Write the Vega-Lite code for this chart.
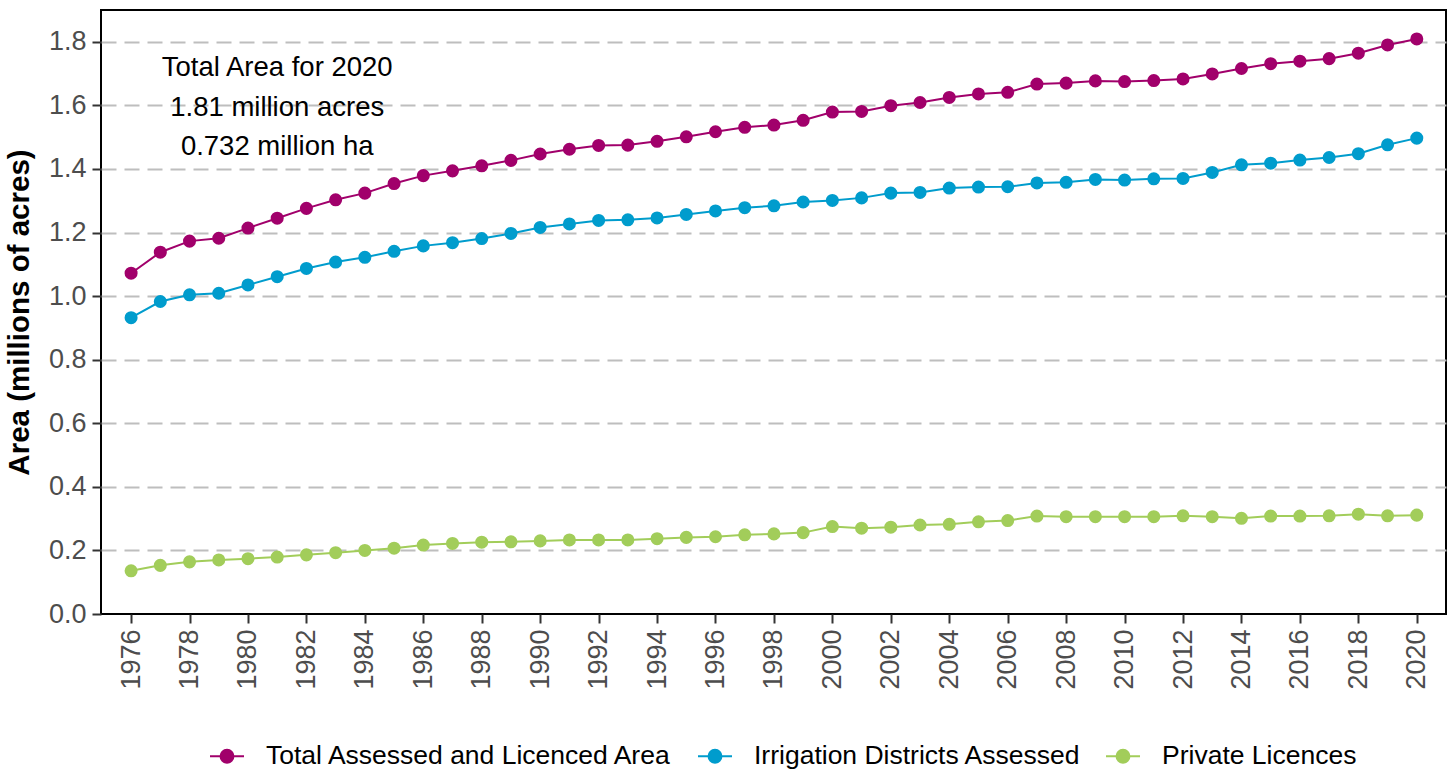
{
  "$schema": "https://vega.github.io/schema/vega-lite/v6.json",
  "width": 1345,
  "height": 604,
  "autosize": {"type": "none"},
  "padding": {"left": 101, "top": 10, "right": 4, "bottom": 155},
  "background": "white",
  "config": {
    "font": "Liberation Sans",
    "view": {"stroke": "#000000", "strokeWidth": 2},
    "axis": {"labelFont": "Liberation Sans", "titleFont": "Liberation Sans"}
  },
  "datasets": {
    "series": [
      {"year": 1976, "series": "Total Assessed and Licenced Area", "value": 1.072},
      {"year": 1977, "series": "Total Assessed and Licenced Area", "value": 1.138},
      {"year": 1978, "series": "Total Assessed and Licenced Area", "value": 1.173},
      {"year": 1979, "series": "Total Assessed and Licenced Area", "value": 1.182},
      {"year": 1980, "series": "Total Assessed and Licenced Area", "value": 1.214},
      {"year": 1981, "series": "Total Assessed and Licenced Area", "value": 1.245},
      {"year": 1982, "series": "Total Assessed and Licenced Area", "value": 1.276},
      {"year": 1983, "series": "Total Assessed and Licenced Area", "value": 1.303},
      {"year": 1984, "series": "Total Assessed and Licenced Area", "value": 1.324},
      {"year": 1985, "series": "Total Assessed and Licenced Area", "value": 1.354},
      {"year": 1986, "series": "Total Assessed and Licenced Area", "value": 1.379},
      {"year": 1987, "series": "Total Assessed and Licenced Area", "value": 1.394},
      {"year": 1988, "series": "Total Assessed and Licenced Area", "value": 1.410},
      {"year": 1989, "series": "Total Assessed and Licenced Area", "value": 1.427},
      {"year": 1990, "series": "Total Assessed and Licenced Area", "value": 1.447},
      {"year": 1991, "series": "Total Assessed and Licenced Area", "value": 1.462},
      {"year": 1992, "series": "Total Assessed and Licenced Area", "value": 1.474},
      {"year": 1993, "series": "Total Assessed and Licenced Area", "value": 1.475},
      {"year": 1994, "series": "Total Assessed and Licenced Area", "value": 1.487},
      {"year": 1995, "series": "Total Assessed and Licenced Area", "value": 1.501},
      {"year": 1996, "series": "Total Assessed and Licenced Area", "value": 1.517},
      {"year": 1997, "series": "Total Assessed and Licenced Area", "value": 1.531},
      {"year": 1998, "series": "Total Assessed and Licenced Area", "value": 1.538},
      {"year": 1999, "series": "Total Assessed and Licenced Area", "value": 1.553},
      {"year": 2000, "series": "Total Assessed and Licenced Area", "value": 1.579},
      {"year": 2001, "series": "Total Assessed and Licenced Area", "value": 1.581},
      {"year": 2002, "series": "Total Assessed and Licenced Area", "value": 1.599},
      {"year": 2003, "series": "Total Assessed and Licenced Area", "value": 1.609},
      {"year": 2004, "series": "Total Assessed and Licenced Area", "value": 1.625},
      {"year": 2005, "series": "Total Assessed and Licenced Area", "value": 1.636},
      {"year": 2006, "series": "Total Assessed and Licenced Area", "value": 1.641},
      {"year": 2007, "series": "Total Assessed and Licenced Area", "value": 1.667},
      {"year": 2008, "series": "Total Assessed and Licenced Area", "value": 1.670},
      {"year": 2009, "series": "Total Assessed and Licenced Area", "value": 1.677},
      {"year": 2010, "series": "Total Assessed and Licenced Area", "value": 1.675},
      {"year": 2011, "series": "Total Assessed and Licenced Area", "value": 1.678},
      {"year": 2012, "series": "Total Assessed and Licenced Area", "value": 1.683},
      {"year": 2013, "series": "Total Assessed and Licenced Area", "value": 1.699},
      {"year": 2014, "series": "Total Assessed and Licenced Area", "value": 1.716},
      {"year": 2015, "series": "Total Assessed and Licenced Area", "value": 1.731},
      {"year": 2016, "series": "Total Assessed and Licenced Area", "value": 1.739},
      {"year": 2017, "series": "Total Assessed and Licenced Area", "value": 1.747},
      {"year": 2018, "series": "Total Assessed and Licenced Area", "value": 1.764},
      {"year": 2019, "series": "Total Assessed and Licenced Area", "value": 1.790},
      {"year": 2020, "series": "Total Assessed and Licenced Area", "value": 1.809},
      {"year": 1976, "series": "Irrigation Districts Assessed", "value": 0.932},
      {"year": 1977, "series": "Irrigation Districts Assessed", "value": 0.983},
      {"year": 1978, "series": "Irrigation Districts Assessed", "value": 1.004},
      {"year": 1979, "series": "Irrigation Districts Assessed", "value": 1.009},
      {"year": 1980, "series": "Irrigation Districts Assessed", "value": 1.035},
      {"year": 1981, "series": "Irrigation Districts Assessed", "value": 1.061},
      {"year": 1982, "series": "Irrigation Districts Assessed", "value": 1.087},
      {"year": 1983, "series": "Irrigation Districts Assessed", "value": 1.107},
      {"year": 1984, "series": "Irrigation Districts Assessed", "value": 1.122},
      {"year": 1985, "series": "Irrigation Districts Assessed", "value": 1.141},
      {"year": 1986, "series": "Irrigation Districts Assessed", "value": 1.158},
      {"year": 1987, "series": "Irrigation Districts Assessed", "value": 1.168},
      {"year": 1988, "series": "Irrigation Districts Assessed", "value": 1.181},
      {"year": 1989, "series": "Irrigation Districts Assessed", "value": 1.197},
      {"year": 1990, "series": "Irrigation Districts Assessed", "value": 1.216},
      {"year": 1991, "series": "Irrigation Districts Assessed", "value": 1.227},
      {"year": 1992, "series": "Irrigation Districts Assessed", "value": 1.238},
      {"year": 1993, "series": "Irrigation Districts Assessed", "value": 1.240},
      {"year": 1994, "series": "Irrigation Districts Assessed", "value": 1.246},
      {"year": 1995, "series": "Irrigation Districts Assessed", "value": 1.257},
      {"year": 1996, "series": "Irrigation Districts Assessed", "value": 1.268},
      {"year": 1997, "series": "Irrigation Districts Assessed", "value": 1.278},
      {"year": 1998, "series": "Irrigation Districts Assessed", "value": 1.284},
      {"year": 1999, "series": "Irrigation Districts Assessed", "value": 1.296},
      {"year": 2000, "series": "Irrigation Districts Assessed", "value": 1.301},
      {"year": 2001, "series": "Irrigation Districts Assessed", "value": 1.309},
      {"year": 2002, "series": "Irrigation Districts Assessed", "value": 1.324},
      {"year": 2003, "series": "Irrigation Districts Assessed", "value": 1.326},
      {"year": 2004, "series": "Irrigation Districts Assessed", "value": 1.340},
      {"year": 2005, "series": "Irrigation Districts Assessed", "value": 1.343},
      {"year": 2006, "series": "Irrigation Districts Assessed", "value": 1.344},
      {"year": 2007, "series": "Irrigation Districts Assessed", "value": 1.356},
      {"year": 2008, "series": "Irrigation Districts Assessed", "value": 1.358},
      {"year": 2009, "series": "Irrigation Districts Assessed", "value": 1.367},
      {"year": 2010, "series": "Irrigation Districts Assessed", "value": 1.365},
      {"year": 2011, "series": "Irrigation Districts Assessed", "value": 1.369},
      {"year": 2012, "series": "Irrigation Districts Assessed", "value": 1.370},
      {"year": 2013, "series": "Irrigation Districts Assessed", "value": 1.389},
      {"year": 2014, "series": "Irrigation Districts Assessed", "value": 1.413},
      {"year": 2015, "series": "Irrigation Districts Assessed", "value": 1.418},
      {"year": 2016, "series": "Irrigation Districts Assessed", "value": 1.428},
      {"year": 2017, "series": "Irrigation Districts Assessed", "value": 1.436},
      {"year": 2018, "series": "Irrigation Districts Assessed", "value": 1.448},
      {"year": 2019, "series": "Irrigation Districts Assessed", "value": 1.476},
      {"year": 2020, "series": "Irrigation Districts Assessed", "value": 1.497},
      {"year": 1976, "series": "Private Licences", "value": 0.136},
      {"year": 1977, "series": "Private Licences", "value": 0.153},
      {"year": 1978, "series": "Private Licences", "value": 0.164},
      {"year": 1979, "series": "Private Licences", "value": 0.170},
      {"year": 1980, "series": "Private Licences", "value": 0.174},
      {"year": 1981, "series": "Private Licences", "value": 0.179},
      {"year": 1982, "series": "Private Licences", "value": 0.186},
      {"year": 1983, "series": "Private Licences", "value": 0.193},
      {"year": 1984, "series": "Private Licences", "value": 0.200},
      {"year": 1985, "series": "Private Licences", "value": 0.207},
      {"year": 1986, "series": "Private Licences", "value": 0.217},
      {"year": 1987, "series": "Private Licences", "value": 0.222},
      {"year": 1988, "series": "Private Licences", "value": 0.226},
      {"year": 1989, "series": "Private Licences", "value": 0.227},
      {"year": 1990, "series": "Private Licences", "value": 0.230},
      {"year": 1991, "series": "Private Licences", "value": 0.233},
      {"year": 1992, "series": "Private Licences", "value": 0.233},
      {"year": 1993, "series": "Private Licences", "value": 0.233},
      {"year": 1994, "series": "Private Licences", "value": 0.237},
      {"year": 1995, "series": "Private Licences", "value": 0.241},
      {"year": 1996, "series": "Private Licences", "value": 0.243},
      {"year": 1997, "series": "Private Licences", "value": 0.249},
      {"year": 1998, "series": "Private Licences", "value": 0.252},
      {"year": 1999, "series": "Private Licences", "value": 0.256},
      {"year": 2000, "series": "Private Licences", "value": 0.275},
      {"year": 2001, "series": "Private Licences", "value": 0.270},
      {"year": 2002, "series": "Private Licences", "value": 0.273},
      {"year": 2003, "series": "Private Licences", "value": 0.280},
      {"year": 2004, "series": "Private Licences", "value": 0.282},
      {"year": 2005, "series": "Private Licences", "value": 0.290},
      {"year": 2006, "series": "Private Licences", "value": 0.294},
      {"year": 2007, "series": "Private Licences", "value": 0.308},
      {"year": 2008, "series": "Private Licences", "value": 0.306},
      {"year": 2009, "series": "Private Licences", "value": 0.306},
      {"year": 2010, "series": "Private Licences", "value": 0.306},
      {"year": 2011, "series": "Private Licences", "value": 0.306},
      {"year": 2012, "series": "Private Licences", "value": 0.309},
      {"year": 2013, "series": "Private Licences", "value": 0.306},
      {"year": 2014, "series": "Private Licences", "value": 0.301},
      {"year": 2015, "series": "Private Licences", "value": 0.308},
      {"year": 2016, "series": "Private Licences", "value": 0.308},
      {"year": 2017, "series": "Private Licences", "value": 0.309},
      {"year": 2018, "series": "Private Licences", "value": 0.314},
      {"year": 2019, "series": "Private Licences", "value": 0.309},
      {"year": 2020, "series": "Private Licences", "value": 0.311}
    ],
    "notes": [
      {"year": 1981, "value": 1.693, "label": "Total Area for 2020"},
      {"year": 1981, "value": 1.567, "label": "1.81 million acres"},
      {"year": 1981, "value": 1.444, "label": "0.732 million ha"}
    ]
  },
  "layer": [
    {
      "data": {"name": "series"},
      "mark": {"type": "line", "strokeWidth": 2},
      "encoding": {
        "x": {
          "field": "year", "type": "quantitative",
          "scale": {"domain": [1974.97, 2021], "nice": false, "zero": false},
          "axis": {
            "title": null,
            "values": [1976,1978,1980,1982,1984,1986,1988,1990,1992,1994,1996,1998,2000,2002,2004,2006,2008,2010,2012,2014,2016,2018,2020],
            "format": "d",
            "labelAngle": -90,
            "labelAlign": "right",
            "labelBaseline": "middle",
            "labelFontSize": 27,
            "labelColor": "#4d4d4d",
            "labelPadding": 6,
            "tickSize": 9,
            "tickWidth": 2,
            "tickColor": "#333333",
            "domain": false,
            "grid": false,
            "labelOverlap": false
          }
        },
        "y": {
          "field": "value", "type": "quantitative",
          "scale": {"domain": [0, 1.9], "nice": false},
          "axis": {
            "title": "Area (millions of acres)",
            "titleFontSize": 29.5,
            "titleFontWeight": "bold",
            "titleColor": "#000000",
            "titlePadding": 14,
            "values": [0, 0.2, 0.4, 0.6, 0.8, 1.0, 1.2, 1.4, 1.6, 1.8],
            "format": ".1f",
            "labelFontSize": 27,
            "labelColor": "#4d4d4d",
            "labelPadding": 6,
            "tickSize": 9,
            "tickWidth": 2,
            "tickColor": "#333333",
            "domain": false,
            "grid": true,
            "gridColor": {"condition": {"test": "datum.value === 0", "value": "transparent"}, "value": "#bebebe"},
            "gridWidth": 2,
            "gridDash": [15, 8],
            "labelOverlap": false
          }
        },
        "color": {
          "field": "series", "type": "nominal",
          "scale": {
            "domain": ["Total Assessed and Licenced Area", "Irrigation Districts Assessed", "Private Licences"],
            "range": ["#a1006b", "#009ccd", "#a2cd5a"]
          },
          "legend": {
            "title": null,
            "orient": "none",
            "direction": "horizontal",
            "legendX": 108,
            "legendY": 728,
            "padding": 0,
            "symbolType": "M-1,0H1M0.38,0A0.38,0.38,0,1,1,-0.38,0A0.38,0.38,0,1,1,0.38,0Z",
            "symbolSize": 1156,
            "symbolStrokeWidth": 2,
            "labelFontSize": 26.5,
            "labelColor": "#000000",
            "labelFont": "Liberation Sans",
            "labelOffset": 21,
            "labelLimit": 600,
            "columnPadding": 21,
            "encode": {
              "symbols": {
                "update": {
                  "fill": {"scale": "color", "field": "value"},
                  "stroke": {"scale": "color", "field": "value"},
                  "opacity": {"value": 1}
                }
              }
            }
          }
        }
      }
    },
    {
      "data": {"name": "series"},
      "mark": {"type": "point", "filled": true, "size": 170, "opacity": 1},
      "encoding": {
        "x": {"field": "year", "type": "quantitative"},
        "y": {"field": "value", "type": "quantitative"},
        "color": {"field": "series", "type": "nominal"}
      }
    },
    {
      "data": {"name": "notes"},
      "mark": {"type": "text", "align": "center", "baseline": "alphabetic", "fontSize": 27.5, "font": "Liberation Sans", "color": "#000000"},
      "encoding": {
        "x": {"field": "year", "type": "quantitative"},
        "y": {"field": "value", "type": "quantitative"},
        "text": {"field": "label"}
      }
    }
  ]
}
